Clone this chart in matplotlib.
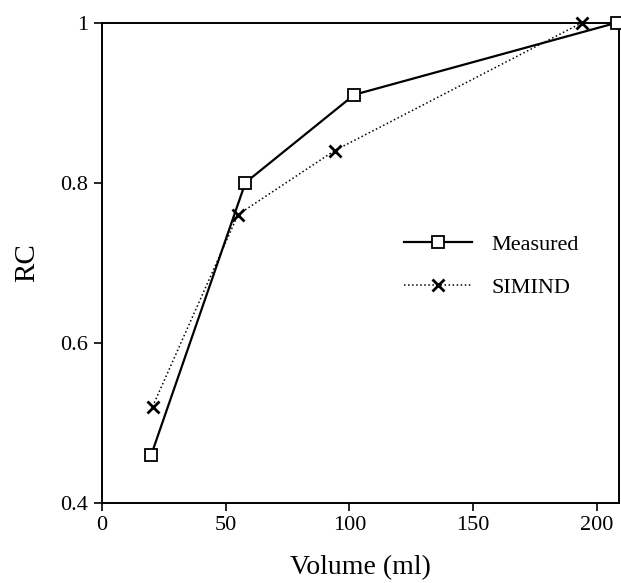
import matplotlib.pyplot as plt

plt.rcParams['font.family'] = ['Liberation Serif', 'DejaVu Serif']

# data
measured_vol = [20, 58, 102, 208]
measured_rc = [0.46, 0.80, 0.91, 1.00]
simind_vol = [20.5, 55, 94, 194]
simind_rc = [0.52, 0.76, 0.84, 1.00]

x_ticks = [0, 50, 100, 150, 200]
y_ticks = [0.4, 0.6, 0.8, 1.0]
y_tick_labels = ['0.4', '0.6', '0.8', '1']

fig = plt.figure(figsize=(6.21, 5.83), dpi=100)
ax = fig.add_axes([0.164, 0.138, 0.833, 0.823])

ax.plot(measured_vol, measured_rc, color='black', linewidth=1.6, linestyle='-',
        marker='s', markersize=8.5, markerfacecolor='white', markeredgecolor='black',
        markeredgewidth=1.3, label='Measured', clip_on=False, zorder=3)
ax.plot(simind_vol, simind_rc, color='black', linewidth=1.1, linestyle=':',
        marker='x', markersize=8, markeredgewidth=2, label='SIMIND',
        clip_on=False, zorder=3)

ax.set_xlim(0, 209)
ax.set_ylim(0.4, 1.0)
ax.set_xticks(x_ticks)
ax.set_yticks(y_ticks)
ax.set_yticklabels(y_tick_labels)
ax.tick_params(direction='out', length=6, width=1.2, labelsize=16, pad=4)
for s in ax.spines.values():
    s.set_linewidth(1.4)

ax.set_xlabel('Volume (ml)', fontsize=20, labelpad=14)
ax.set_ylabel('RC', fontsize=21, labelpad=14)

ax.legend(loc='center left', bbox_to_anchor=(0.545, 0.493), frameon=False,
          fontsize=16, numpoints=1, handlelength=3.05, handletextpad=0.9,
          labelspacing=1.0)

plt.savefig('out.png', dpi=100)
